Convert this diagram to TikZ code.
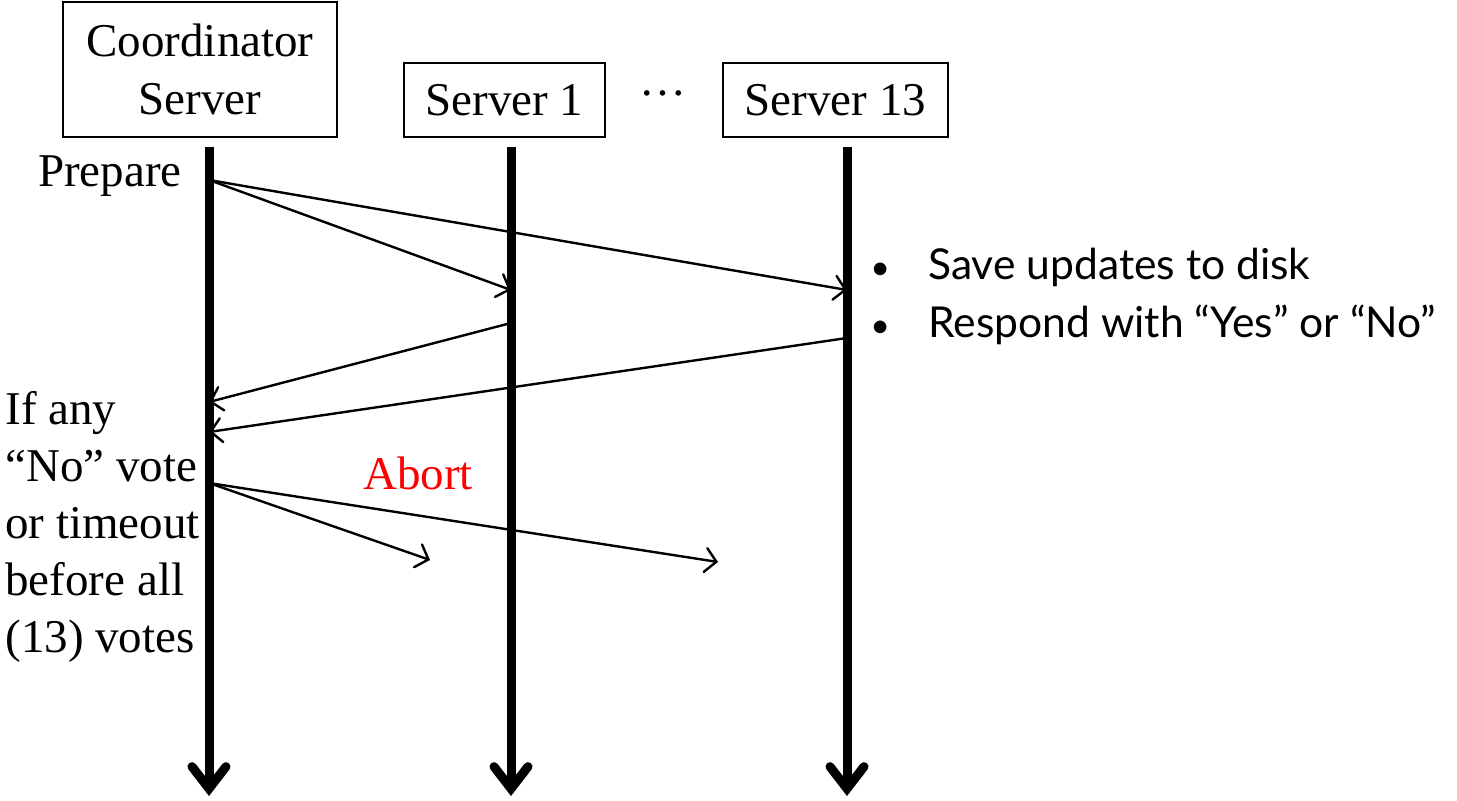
\documentclass[tikz,border=0pt]{standalone}
\usepackage{fontspec}
\setmainfont{Liberation Serif}
\newfontfamily\notefont{Lato}
\usetikzlibrary{arrows.meta}
\newcommand{\notedot}{\makebox[29pt][l]{\fontsize{17}{29}\selectfont •}}
\begin{document}
\begin{tikzpicture}[x=0.5pt,y=-0.5pt]
		\tikzstyle{every node}+=[inner sep=0pt, font=\fontsize{23.5}{29}\selectfont]
		\tikzstyle{proc}=[draw, line width=1pt, align=center]
		\tikzstyle{life}=[line width=4.5pt, -{Straight Barb[length=11pt, width=17pt, line cap=round]}]
		\tikzstyle{msg}=[line width=1.2pt, -{Straight Barb[length=5.5pt, width=12pt, line cap=round]}]
		\tikzstyle{note}=[anchor=base west, font=\notefont\fontsize{21.3}{29}\selectfont]
		\useasboundingbox (0,0) rectangle (1457,801);
		\node [proc, minimum width=137pt, minimum height=67.5pt] (coord) at (200,69.5) {Coordinator\\Server};
		\node [proc, minimum width=100.5pt, minimum height=37pt] (srv1) at (504.5,100) {Server 1};
		\node [proc, minimum width=112.5pt, minimum height=37pt] (srv13) at (835.5,100) {Server 13};
		\node [anchor=base] (dots) at (663,96) {\dots};
		\coordinate (c-top) at (209,147);
		\coordinate (c-end) at (209,796);
		\coordinate (a-top) at (511,147);
		\coordinate (a-end) at (511,796);
		\coordinate (b-top) at (847,147);
		\coordinate (b-end) at (847,796);
		\draw [life] (c-top) -- (c-end);
		\draw [life] (a-top) -- (a-end);
		\draw [life] (b-top) -- (b-end);
		\node [anchor=base east] (prepare) at (182,187) {Prepare};
		\coordinate (c-prep) at (209,180);
		\coordinate (a-prep) at (511,290);
		\coordinate (b-prep) at (847,290);
		\draw [msg] (c-prep) -- (a-prep);
		\draw [msg] (c-prep) -- (b-prep);
		\coordinate (a-vote) at (511,323);
		\coordinate (b-vote) at (847,338);
		\coordinate (c-vote1) at (209,402);
		\coordinate (c-vote2) at (209,432);
		\draw [msg] (a-vote) -- (c-vote1);
		\draw [msg] (b-vote) -- (c-vote2);
		\coordinate (c-abort) at (209,483);
		\coordinate (a-abort) at (430,560);
		\coordinate (b-abort) at (718,562);
		\draw [msg] (c-abort) -- (a-abort);
		\draw [msg] (c-abort) -- (b-abort);
		\node [anchor=base west, text=red] (abort) at (363,490) {Abort};
		\node [anchor=base west, align=left, font=\fontsize{23.5}{28.5}\selectfont] (rule) at (5,653) {If any\\``No'' vote\\or timeout\\before all\\(13) votes};
		\node [note] (save) at (870,280) {\notedot Save updates to disk};
		\node [note] (respond) at (870,338) {\notedot Respond with “Yes” or “No”};
		\end{tikzpicture}
\end{document}
